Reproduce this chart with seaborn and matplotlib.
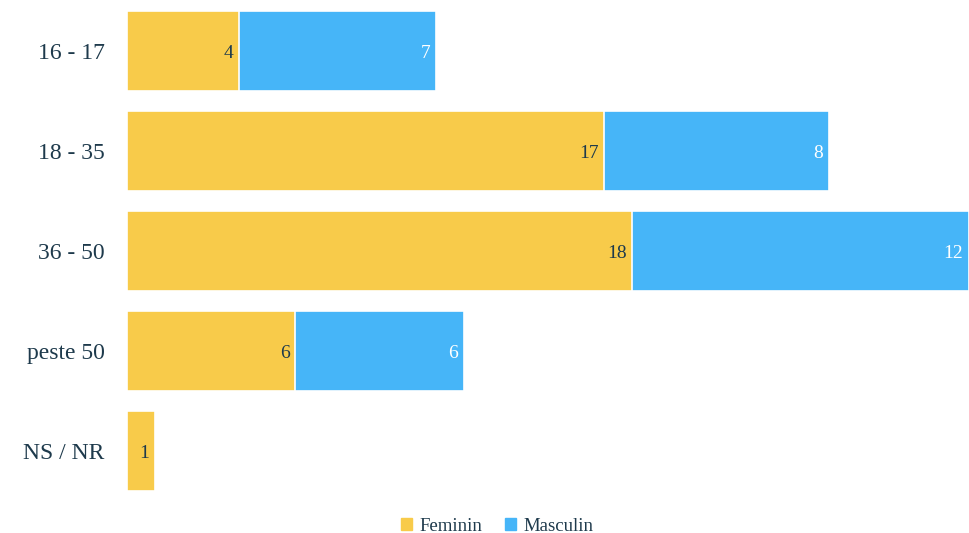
import matplotlib
matplotlib.use('Agg')
import matplotlib.pyplot as plt
from matplotlib.patches import Patch
import seaborn as sns
import pandas as pd

# date
categorii = ['16 - 17', '18 - 35', '36 - 50', 'peste 50', 'NS / NR']
feminin = [4, 17, 18, 6, 1]
masculin = [7, 8, 12, 6, 0]

galben = '#F8CB4A'
albastru = '#46B5F8'
text_col = '#1E3A4C'

sns.set_theme(style='white')
plt.rcParams['font.family'] = ['Liberation Serif', 'DejaVu Serif']

df = pd.DataFrame({'cat': categorii, 'F': feminin, 'M': masculin})
df['total'] = df['F'] + df['M']

fig = plt.figure(figsize=(9.69, 5.33), dpi=100)
ax = fig.add_axes([127 / 969, 32 / 533, 842 / 969, 500 / 533])

# bara totala (albastru), apoi feminin deasupra (galben)
sns.barplot(data=df, x='total', y='cat', color=albastru, saturation=1,
            width=0.8, edgecolor='white', linewidth=1.2, ax=ax)
sns.barplot(data=df, x='F', y='cat', color=galben, saturation=1,
            width=0.8, edgecolor='white', linewidth=1.2, ax=ax)

for i in range(len(categorii)):
    ax.annotate(str(feminin[i]), (feminin[i], i), xytext=(-4, 0),
                textcoords='offset points', ha='right', va='center_baseline',
                fontsize=14, color=text_col)
    if masculin[i] > 0:
        ax.annotate(str(masculin[i]), (feminin[i] + masculin[i], i), xytext=(-4, 0),
                    textcoords='offset points', ha='right', va='center_baseline',
                    fontsize=14, color='white')

ax.set_xlim(0, 30)
ax.set_ylim(4.5, -0.5)
ax.set_xlabel('')
ax.set_ylabel('')
ax.set_xticks([])
ax.tick_params(axis='y', length=0, pad=16, labelsize=17, labelcolor=text_col)
sns.despine(ax=ax, left=True, bottom=True)

handles = [Patch(color=galben, label='Feminin'), Patch(color=albastru, label='Masculin')]
fig.legend(handles=handles, loc='center', bbox_to_anchor=(0.513, 0.013), ncol=2,
           frameon=False, fontsize=13.5, handlelength=0.6, handleheight=0.6,
           handletextpad=0.4, columnspacing=1.2, labelcolor=text_col)

fig.savefig('out.png', dpi=100)
